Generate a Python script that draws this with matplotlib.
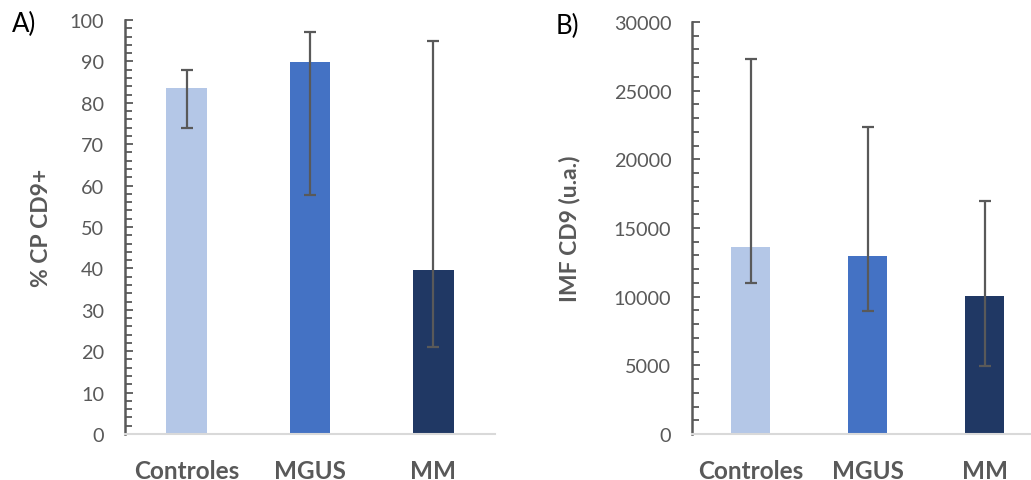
import matplotlib
matplotlib.use("Agg")
import matplotlib.pyplot as plt
from matplotlib.ticker import MultipleLocator

plt.rcParams['font.family'] = ['Lato', 'DejaVu Sans']

categories = ["Controles", "MGUS", "MM"]
colors = ["#B4C7E7", "#4472C4", "#203864"]

# Panel A: % CP CD9+
pct_values = [83.5, 89.8, 39.7]
pct_err_low = [73.9, 57.7, 20.9]
pct_err_high = [87.9, 97.0, 95.0]

# Panel B: IMF CD9 (u.a.)
imf_values = [13600, 12970, 10050]
imf_err_low = [10980, 8990, 4980]
imf_err_high = [27300, 22320, 17000]

GREY = "#595959"
W, H = 1031, 481
fig = plt.figure(figsize=(W / 100, H / 100), dpi=100)


def panel(rect, values, lo, hi, ymax, major, minor, ylabel, bar_w):
    ax = fig.add_axes(rect)
    x = range(len(categories))
    ax.bar(x, values, width=bar_w, color=colors, zorder=2)
    yerr = [[v - l for v, l in zip(values, lo)], [h - v for v, h in zip(values, hi)]]
    ax.errorbar(x, values, yerr=yerr, fmt="none", ecolor=GREY, elinewidth=1.6,
                capsize=4.5, capthick=1.6, zorder=3)
    ax.set_xlim(-0.5, len(categories) - 0.5)
    ax.set_ylim(0, ymax)
    ax.yaxis.set_major_locator(MultipleLocator(major))
    ax.yaxis.set_minor_locator(MultipleLocator(minor))
    ax.tick_params(axis="y", which="both", direction="in", color=GREY, width=1.3,
                   labelcolor=GREY, labelsize=14.3, pad=15)
    ax.tick_params(axis="y", which="major", length=6)
    ax.tick_params(axis="y", which="minor", length=5)
    ax.tick_params(axis="x", length=0, pad=18)
    ax.set_xticks(list(x))
    ax.set_xticklabels(categories, fontsize=17.5, fontweight="bold", color=GREY)
    for s in ("top", "right"):
        ax.spines[s].set_visible(False)
    ax.spines["left"].set_color(GREY)
    ax.spines["left"].set_linewidth(1.8)
    ax.spines["bottom"].set_color("#D9D9D9")
    ax.spines["bottom"].set_linewidth(1.5)
    ax.set_ylabel(ylabel, fontsize=16.5, fontweight="bold", color=GREY)
    ax.yaxis.label.set_va("center")
    return ax


def rect(x0, x1, y0, y1):
    return [x0 / W, 1 - y1 / H, (x1 - x0) / W, (y1 - y0) / H]


axA = panel(rect(125, 495, 21, 435), pct_values, pct_err_low, pct_err_high,
            100, 10, 2, "% CP CD9+", 0.33)
axA.yaxis.set_label_coords(-83 / 370, 0.5)

axB = panel(rect(692, 1043, 23, 435), imf_values, imf_err_low, imf_err_high,
            30000, 5000, 1000, "IMF CD9 (u.a.)", 0.325)
axB.yaxis.set_label_coords(-123 / 351, 0.5)

fig.text(12 / W, 1 - 24 / H, "A)", fontsize=18.5, color="black", va="center")
fig.text(556 / W, 1 - 26 / H, "B)", fontsize=18.5, color="black", va="center")

fig.savefig("out.png", dpi=100)
